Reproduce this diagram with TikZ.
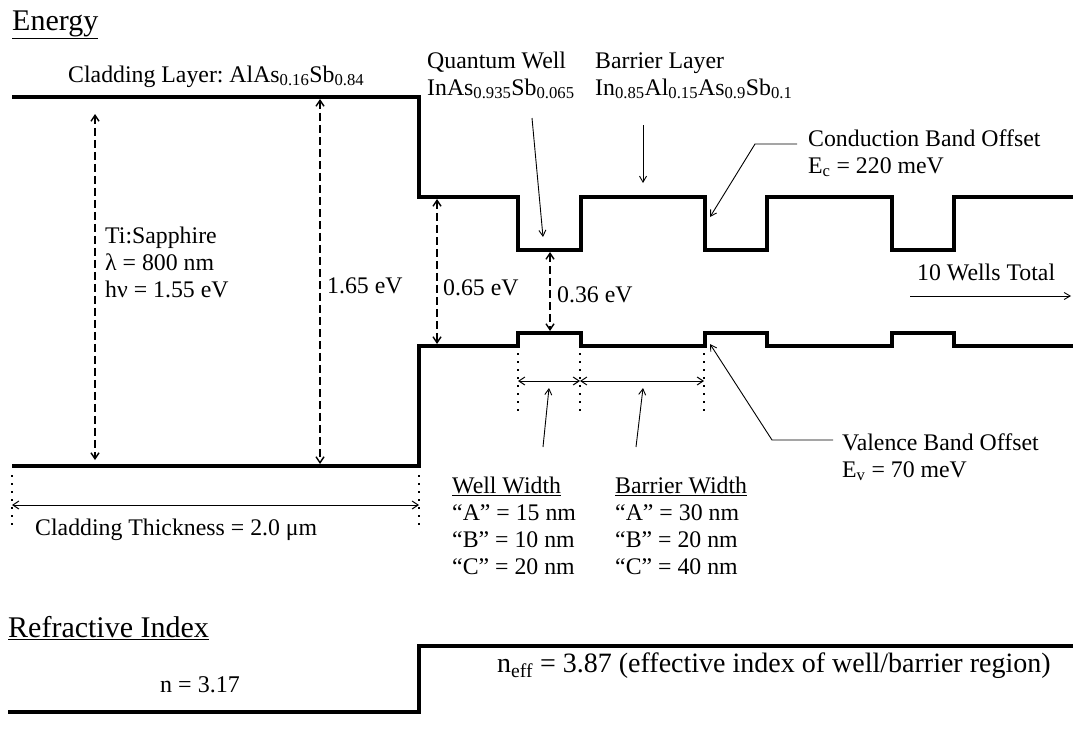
\documentclass[tikz,border=0pt]{standalone}
\usepackage{fontspec}
\setmainfont{Liberation Serif}
\usetikzlibrary{arrows.meta}
\frenchspacing
\begin{document}
\begin{tikzpicture}[x=1pt,y=-1pt,
  band/.style={line width=3.6pt,line cap=butt,line join=miter},
  gap/.style={line width=1.4pt,dash pattern=on 8pt off 4pt,{Straight Barb[length=6pt,width=8pt]}-{Straight Barb[length=6pt,width=8pt]}},
  lead/.style={line width=0.9pt,-{Straight Barb[length=6pt,width=7pt]}},
  dimen/.style={line width=1pt,{Straight Barb[length=6pt,width=8pt]}-{Straight Barb[length=6pt,width=8pt]}},
  dots/.style={line width=1.8pt,dash pattern=on 1.8pt off 6.2pt},
  txt/.style={inner sep=0pt,anchor=base west,font=\fontsize{23.8}{27}\selectfont,align=left},
  ttl/.style={inner sep=0pt,anchor=base west,font=\fontsize{30}{34}\selectfont}]
\useasboundingbox (0,0) rectangle (1073,728);
% titles
\node[ttl] (energy) at (12,30) {\underline{Energy}};
\node[ttl] (refr) at (8,637) {\underline{Refractive Index}};
% conduction band
\draw[band] (12,97) -- (419,97) -- (419,197) -- (518,197) -- (518,250) -- (581,250) -- (581,197)
  -- (705,197) -- (705,250) -- (767,250) -- (767,197) -- (892,197) -- (892,250) -- (954,250) -- (954,197) -- (1073,197);
% valence band
\draw[band] (12,466) -- (419,466) -- (419,346) -- (518,346) -- (518,333) -- (581,333) -- (581,346)
  -- (705,346) -- (705,333) -- (767,333) -- (767,346) -- (892,346) -- (892,333) -- (954,333) -- (954,346) -- (1073,346);
% gap arrows
\coordinate (ti1) at (95,114); \coordinate (ti2) at (95,460);
\coordinate (g1a) at (320,99); \coordinate (g1b) at (320,464);
\coordinate (g2a) at (437,199); \coordinate (g2b) at (437,344);
\coordinate (g3a) at (550,252); \coordinate (g3b) at (550,331);
\draw[gap] (ti1) -- (ti2);
\draw[gap] (g1a) -- (g1b);
\draw[gap] (g2a) -- (g2b);
\draw[gap] (g3a) -- (g3b);
% labels (base anchor = baseline of the last line)
\node[txt] (clad) at (68,82) {Cladding Layer: AlAs\textsubscript{0.16}Sb\textsubscript{0.84}};
\node[txt] (tisa) at (105,297) {Ti:Sapphire\\λ = 800 nm\\hν = 1.55 eV};
\node[txt] (e165) at (327,293) {1.65 eV};
\node[txt] (e065) at (443,295) {0.65 eV};
\node[txt] (e036) at (557,302) {0.36 eV};
\node[txt] (qw) at (427,95) {Quantum Well\\InAs\textsubscript{0.935}Sb\textsubscript{0.065}};
\node[txt] (bl) at (595,95) {Barrier Layer\\In\textsubscript{0.85}Al\textsubscript{0.15}As\textsubscript{0.9}Sb\textsubscript{0.1}};
\node[txt] (cbo) at (808,173) {Conduction Band Offset\\E\textsubscript{c} = 220 meV};
\node[txt] (vbo) at (842,477) {Valence Band Offset\\E\textsubscript{v} = 70 meV};
\node[txt] (tenw) at (917,280) {10 Wells Total};
\node[txt] (ww) at (452,574) {\underline{Well Width}\\“A” = 15 nm\\“B” = 10 nm\\“C” = 20 nm};
\node[txt] (bw) at (615,574) {\underline{Barrier Width}\\“A” = 30 nm\\“B” = 20 nm\\“C” = 40 nm};
\node[txt] (cth) at (35,535) {Cladding Thickness = 2.0 μm};
% leader arrows
\coordinate (qwt) at (532,118); \coordinate (qwh) at (543,237);
\draw[lead] (qwt) -- (qwh);
\coordinate (blt) at (643,125); \coordinate (blh) at (643,183);
\draw[lead] (blt) -- (blh);
\coordinate (cb1) at (797,144); \coordinate (cb2) at (755,144); \coordinate (cbh) at (710,217);
\draw[lead] (cb1) -- (cb2) -- (cbh);
\coordinate (vb1) at (833,440); \coordinate (vb2) at (772,440); \coordinate (vbh) at (710,344);
\draw[lead] (vb1) -- (vb2) -- (vbh);
\coordinate (tw1) at (910,296); \coordinate (tw2) at (1071,296);
\draw[lead] (tw1) -- (tw2);
% width markers
\foreach \xx/\nm in {518/da,580/db,704/dc} {
  \coordinate (\nm1) at (\xx,353); \coordinate (\nm2) at (\xx,412);
  \draw[dots] (\nm1) -- (\nm2);
}
\coordinate (wa) at (518,381); \coordinate (wb) at (580,381); \coordinate (wc) at (704,381);
\draw[dimen] (wa) -- (wb);
\draw[dimen] (wb) -- (wc);
\coordinate (wwt) at (543,447); \coordinate (wwh) at (549,388);
\draw[lead] (wwt) -- (wwh);
\coordinate (bwt) at (636,447); \coordinate (bwh) at (643,388);
\draw[lead] (bwt) -- (bwh);
% cladding thickness
\coordinate (ct1) at (12,475); \coordinate (ct2) at (12,530);
\coordinate (ct3) at (419,475); \coordinate (ct4) at (419,530);
\draw[dots] (ct1) -- (ct2);
\draw[dots] (ct3) -- (ct4);
\coordinate (cta) at (12,505); \coordinate (ctb) at (419,505);
\draw[dimen] (cta) -- (ctb);
% refractive index profile
\draw[band] (8,712) -- (419,712) -- (419,646) -- (1073,646);
\node[inner sep=0pt,anchor=base,font=\fontsize{24}{28}\selectfont] (n1) at (200,692) {n = 3.17};
\node[inner sep=0pt,anchor=base west,font=\fontsize{28}{31}\selectfont] (n2) at (497,672) {n\textsubscript{eff} = 3.87 (effective index of well/barrier region)};
\end{tikzpicture}
\end{document}
